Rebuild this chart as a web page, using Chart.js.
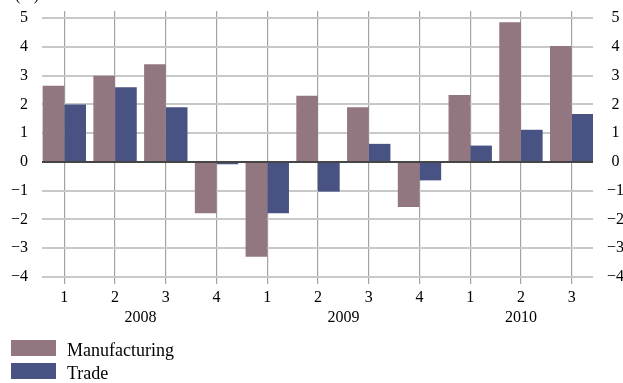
<!DOCTYPE html>
<html>
<head>
<meta charset="utf-8">
<script src="https://cdn.jsdelivr.net/npm/chart.js@4"></script>
<style>
  body { margin: 0; background: #fff; }
  #wrap { width: 623px; height: 383px; }
</style>
</head>
<body>
<div id="wrap"><canvas id="myChart" width="623" height="383"></canvas></div>
<script>
var quarters = ['1', '2', '3', '4', '1', '2', '3', '4', '1', '2', '3'];
var years = ['2008', '2009', '2010'];
var yearFirst = [0, 4, 8];
var yearLast = [3, 7, 10];
var manufacturing = [2.65, 3.0, 3.4, -1.78, -3.3, 2.3, 1.9, -1.57, 2.33, 4.86, 4.03];
var trade = [2.0, 2.6, 1.9, -0.08, -1.78, -1.03, 0.63, -0.64, 0.57, 1.12, 1.67];
var yTicks = [-4, -3, -2, -1, 0, 1, 2, 3, 4, 5];

var font = '"Liberation Serif", serif';
Chart.defaults.font.family = font;
Chart.defaults.font.size = 16;
Chart.defaults.color = '#000';

function minus(v) {
    return v < 0 ? '\u2212' + Math.abs(v) : String(v);
}
function yTickList(scale) {
    scale.ticks = yTicks.map(function (v) { return { value: v }; });
}

// year labels, zero line, unit label and legend
var extras = {
    id: 'extras',
    afterDatasetsDraw: function (chart) {
        var c = chart.ctx, a = chart.chartArea;
        var y0 = chart.scales.y.getPixelForValue(0);
        c.save();
        c.strokeStyle = '#1a1a1a';
        c.lineWidth = 1.5;
        c.beginPath();
        c.moveTo(a.left, y0);
        c.lineTo(a.right, y0);
        c.stroke();
        c.restore();
    },
    afterDraw: function (chart) {
        var c = chart.ctx, x = chart.scales.x;
        c.save();
        c.fillStyle = '#000';
        c.font = '16px ' + font;
        c.textAlign = 'center';
        c.textBaseline = 'middle';
        years.forEach(function (yr, i) {
            var px = (x.getPixelForValue(yearFirst[i]) + x.getPixelForValue(yearLast[i])) / 2;
            c.fillText(yr, px, 318);
        });
        c.textBaseline = 'alphabetic';
        c.fillText('(%)', 27, 0);

        c.textAlign = 'left';
        c.font = '18px ' + font;
        chart.data.datasets.forEach(function (ds, i) {
            var top = 340 + i * 23;
            c.fillStyle = ds.backgroundColor;
            c.fillRect(11, top, 45, 16);
            c.fillStyle = '#000';
            c.fillText(ds.label, 67, top + 16);
        });
        c.restore();
    }
};

var ctx = document.getElementById('myChart').getContext('2d');
var myChart = new Chart(ctx, {
    type: 'bar',
    data: {
        datasets: [{
            label: 'Manufacturing',
            data: manufacturing.map(function (v, i) { return { x: i, y: v }; }),
            backgroundColor: '#937780'
        }, {
            label: 'Trade',
            data: trade.map(function (v, i) { return { x: i, y: v }; }),
            backgroundColor: '#485283'
        }]
    },
    options: {
        responsive: false,
        animation: false,
        categoryPercentage: 0.855,
        barPercentage: 1,
        layout: { padding: { top: 11 } },
        plugins: {
            legend: { display: false },
            tooltip: { enabled: false }
        },
        scales: {
            x: {
                type: 'linear',
                min: -0.44,
                max: 10.42,
                offset: false,
                afterBuildTicks: function (scale) {
                    scale.ticks = quarters.map(function (q, i) { return { value: i }; });
                },
                afterFit: function (scale) {
                    scale.height = 106;
                    scale.paddingLeft = 0;
                    scale.paddingRight = 0;
                },
                grid: { offset: false, color: '#a3a3a3', lineWidth: 1.2, tickLength: 7, drawTicks: true },
                border: { display: false },
                ticks: {
                    autoSkip: false,
                    maxRotation: 0,
                    padding: 4,
                    color: '#000',
                    font: { family: font, size: 16 },
                    callback: function (v) { return quarters[v]; }
                }
            },
            y: {
                position: 'left',
                min: -4,
                max: 5.25,
                afterBuildTicks: yTickList,
                afterFit: function (scale) {
                    scale.width = 42;
                    scale.paddingTop = 0;
                    scale.paddingBottom = 0;
                },
                grid: { color: '#c8c8c8', lineWidth: 2, drawTicks: false },
                border: { display: false },
                ticks: {
                    padding: 14,
                    color: '#000',
                    font: { family: font, size: 16 },
                    callback: minus
                }
            },
            y2: {
                position: 'right',
                min: -4,
                max: 5.25,
                afterBuildTicks: yTickList,
                afterFit: function (scale) {
                    scale.width = 30;
                    scale.paddingTop = 0;
                    scale.paddingBottom = 0;
                },
                grid: { display: false, drawTicks: false },
                border: { display: false },
                ticks: {
                    padding: 14,
                    crossAlign: 'center',
                    color: '#000',
                    font: { family: font, size: 16 },
                    callback: minus
                }
            }
        }
    },
    plugins: [extras]
});
</script>
</body>
</html>
